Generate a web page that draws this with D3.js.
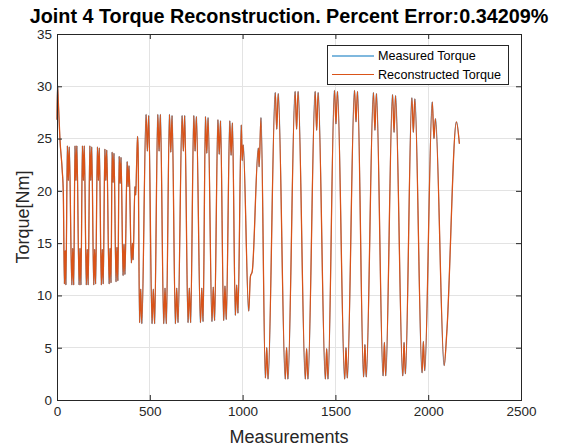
<!DOCTYPE html>
<html><head><meta charset="utf-8">
<script src="https://cdn.jsdelivr.net/npm/d3@7/dist/d3.min.js"></script>
<style>
body{margin:0;background:#fff;}
svg{display:block;font-family:"Liberation Sans",Arial,Helvetica,sans-serif;}
</style>
</head><body><svg id="chart" width="563" height="448"></svg>
<script>
// ---- data ----
const sampleIdx = [0,3,7,16,28,34,40,44,48,56,61,66,80,85,90,97,102,107,119,124,129,137,142,147,158,163,168,177,182,187,198,203,208,218,223,228,239,244,249,258,263,268,281,286,291,297,302,307,318,323,328,335,340,345,356,361,366,378,383,388,401,406,410,420,424,429,434,437,
445,451,457,480,487,494,512,519,526,543,550,557,575,582,589,606,613,620,638,645,652,674,681,688,706,713,720,737,744,751,773,780,787,800,807,814,835,842,849,867,874,881,898,905,912,931,938,945,961,968,975,993,998,1003,1033,1042,1052,1085,1089,1099,
1123,1130,1137,1176,1184,1192,1230,1237,1244,1283,1291,1299,1338,1345,1352,1391,1399,1407,1446,1453,1460,1495,1503,1511,1550,1557,1564,1603,1611,1619,1652,1659,1666,1705,1713,1721,1757,1764,1771,1808,1816,1824,1863,1870,1877,1912,1920,1928,1967,1974,1981,2022,2031,2039,2086,2100,2152,2168];
const measuredTorque = [26.8,30.1,28.6,24.9,22.0,19.8,11.1,14.3,11.0,24.3,21.0,24.2,11.0,14.5,11.0,24.3,21.0,24.3,11.0,14.5,11.0,24.3,21.0,24.3,11.0,14.4,11.0,24.3,21.0,24.2,11.0,14.4,11.1,24.2,21.0,24.1,11.0,14.4,11.1,24.0,21.0,23.9,11.1,14.5,11.2,23.7,20.8,23.6,11.3,14.6,11.4,23.3,20.7,23.2,11.9,14.9,12.0,22.8,20.4,22.4,13.1,15.0,13.4,20.4,19.6,22.5,25.2,24.0,
7.4,10.6,7.3,27.3,23.8,27.2,7.3,10.6,7.3,27.3,23.8,27.3,7.3,10.7,7.3,27.3,23.7,27.2,7.3,10.7,7.4,27.2,23.8,27.2,7.4,10.7,7.4,27.2,23.8,27.1,7.4,10.7,7.5,27.1,23.6,27.0,7.5,10.8,7.6,26.8,23.5,26.7,7.6,10.9,7.7,26.7,23.4,26.5,8.1,11.0,8.3,26.3,22.9,24.4,8.5,11.8,12.3,24.1,22.3,27.0,
2.1,5.0,2.0,29.4,25.9,29.3,2.0,5.0,2.0,29.5,25.9,29.5,2.0,4.9,2.0,29.5,25.8,29.4,2.0,4.9,2.0,29.6,26.4,29.5,2.0,5.0,2.1,29.6,26.6,29.5,2.2,5.3,2.2,29.4,25.8,29.3,2.3,5.5,2.3,29.2,25.6,29.1,2.3,5.5,2.5,28.9,25.6,28.8,2.6,5.6,2.8,28.5,25.0,26.9,3.3,6.4,26.6,24.5];
const reconstructedTorque = [26.8,30.1,28.6,24.9,22.0,19.8,11.1,14.3,11.0,24.3,21.0,24.2,11.0,14.5,11.0,24.3,21.0,24.3,11.0,14.5,11.0,24.3,21.0,24.3,11.0,14.4,11.0,24.3,21.0,24.2,11.0,14.4,11.1,24.2,21.0,24.1,11.0,14.4,11.1,24.0,21.0,23.9,11.1,14.5,11.2,23.7,20.8,23.6,11.3,14.6,11.4,23.3,20.7,23.2,11.9,14.9,12.0,22.8,20.4,22.4,13.1,15.0,13.4,20.4,19.6,22.5,25.2,24.0,
7.4,10.6,7.3,27.3,23.8,27.2,7.3,10.6,7.3,27.3,23.8,27.3,7.3,10.7,7.3,27.3,23.7,27.2,7.3,10.7,7.4,27.2,23.8,27.2,7.4,10.7,7.4,27.2,23.8,27.1,7.4,10.7,7.5,27.1,23.6,27.0,7.5,10.8,7.6,26.8,23.5,26.7,7.6,10.9,7.7,26.7,23.4,26.5,8.1,11.0,8.3,26.3,22.9,24.4,8.5,11.8,12.3,24.1,22.3,27.0,
2.1,5.0,2.0,29.4,25.9,29.3,2.0,5.0,2.0,29.5,25.9,29.5,2.0,4.9,2.0,29.5,25.8,29.4,2.0,4.9,2.0,29.6,26.4,29.5,2.0,5.0,2.1,29.6,26.6,29.5,2.2,5.3,2.2,29.4,25.8,29.3,2.3,5.5,2.3,29.2,25.6,29.1,2.3,5.5,2.5,28.9,25.6,28.8,2.6,5.6,2.8,28.5,25.0,26.9,3.3,6.4,26.6,24.5];
const xTickValues = [0,500,1000,1500,2000,2500];
const yTickValues = [0,5,10,15,20,25,30,35];
const seriesNames = ["Measured Torque","Reconstructed Torque"];
const seriesColors = ["#0072BD","#D95319"];
const seriesWidths = [0.6,1.3];
const titleText = "Joint 4 Torque Reconstruction. Percent Error:0.34209%";
const xLabelText = "Measurements";
const yLabelText = "Torque[Nm]";

// ---- layout ----
const svg = d3.select("#chart");
const L = 57, R = 521, T = 34, B = 400;
const x = d3.scaleLinear().domain([0,2500]).range([L,R]);
const y = d3.scaleLinear().domain([0,35]).range([B,T]);
const axisColor = "#262626";

// grid
const grid = svg.append("g");
grid.selectAll("line.vx").data(xTickValues.slice(1,-1)).join("line")
  .attr("x1",d=>x(d)).attr("x2",d=>x(d)).attr("y1",T).attr("y2",B)
  .attr("stroke","#e3e3e3").attr("stroke-width",1).attr("shape-rendering","crispEdges");
grid.selectAll("line.hy").data(yTickValues.slice(1,-1)).join("line")
  .attr("y1",d=>y(d)).attr("y2",d=>y(d)).attr("x1",L).attr("x2",R)
  .attr("stroke","#e3e3e3").attr("stroke-width",1).attr("shape-rendering","crispEdges");

// lines
const line = d3.line().x(d=>x(d[0])).y(d=>y(d[1])).curve(d3.curveMonotoneX);
[measuredTorque, reconstructedTorque].forEach((vals,i)=>{
  svg.append("path")
    .datum(sampleIdx.map((s,k)=>[s,vals[k]]))
    .attr("d",line).attr("fill","none")
    .attr("stroke",seriesColors[i]).attr("stroke-width",seriesWidths[i])
    .attr("stroke-linejoin","round");
});

// axes
function styleAxis(g){
  g.select(".domain").remove();
  g.selectAll(".tick line").attr("stroke",axisColor);
  g.selectAll("text").attr("fill",axisColor).style("font-size","13.5px")
   .style("font-family","'Liberation Sans',Arial,sans-serif");
}
svg.append("g").attr("transform",`translate(0,${B})`)
  .call(d3.axisBottom(x).tickValues(xTickValues).tickSize(-5).tickPadding(6).tickFormat(d3.format("d")))
  .call(styleAxis);
svg.append("g").attr("transform",`translate(0,${T})`)
  .call(d3.axisTop(x).tickValues(xTickValues).tickSize(-5).tickFormat(""))
  .call(styleAxis);
svg.append("g").attr("transform",`translate(${L},0)`)
  .call(d3.axisLeft(y).tickValues(yTickValues).tickSize(-5).tickPadding(5).tickFormat(d3.format("d")))
  .call(styleAxis);
svg.append("g").attr("transform",`translate(${R},0)`)
  .call(d3.axisRight(y).tickValues(yTickValues).tickSize(-5).tickFormat(""))
  .call(styleAxis);
svg.append("rect").attr("x",L).attr("y",T).attr("width",R-L).attr("height",B-T)
  .attr("fill","none").attr("stroke",axisColor).attr("stroke-width",1).attr("shape-rendering","crispEdges");

// title and labels
svg.append("text").attr("x",(L+R)/2).attr("y",23).attr("text-anchor","middle")
  .style("font-weight","bold").style("font-size","19.8px").attr("fill","#000").text(titleText);
svg.append("text").attr("x",(L+R)/2).attr("y",443).attr("text-anchor","middle")
  .style("font-size","18px").attr("fill",axisColor).text(xLabelText);
svg.append("text").attr("transform",`translate(29,${(T+B)/2}) rotate(-90)`).attr("text-anchor","middle")
  .style("font-size","18px").attr("fill",axisColor).text(yLabelText);

// legend
const lg = svg.append("g");
lg.append("rect").attr("x",327.5).attr("y",45.5).attr("width",181).attr("height",39)
  .attr("fill","#fff").attr("stroke",axisColor).attr("stroke-width",1);
seriesNames.forEach((n,i)=>{
  const yy = 56 + i*18.5;
  lg.append("line").attr("x1",332).attr("x2",374).attr("y1",yy).attr("y2",yy)
    .attr("stroke",seriesColors[i]).attr("stroke-width",1.1);
  lg.append("text").attr("x",378).attr("y",yy).attr("dy","0.35em")
    .style("font-size","12.6px").attr("fill","#000").text(n);
});
</script>
</body></html>
